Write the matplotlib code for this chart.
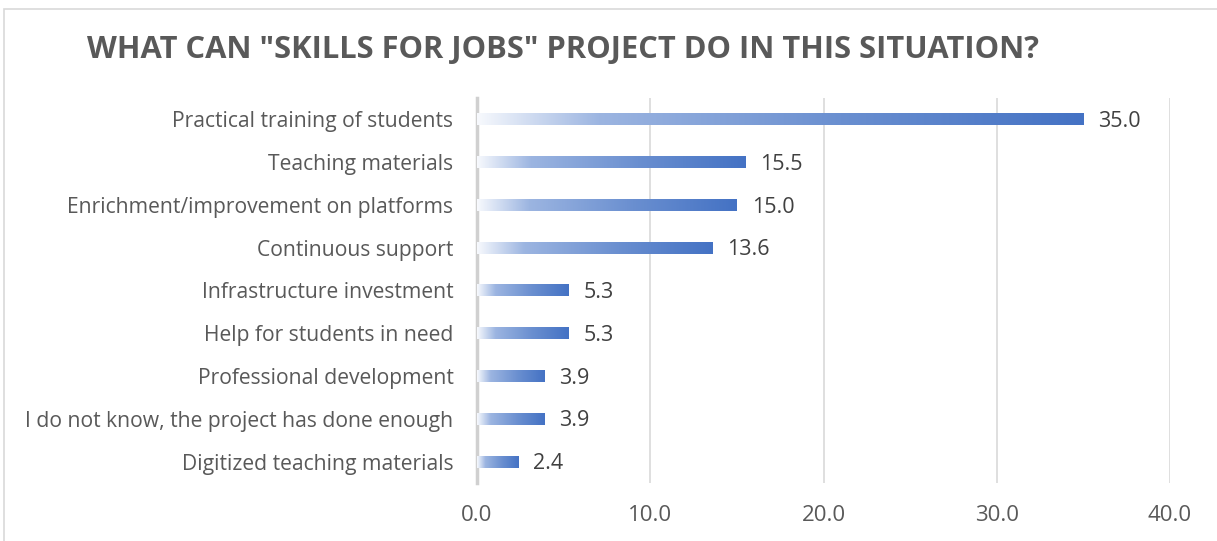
import numpy as np
import matplotlib
matplotlib.use('Agg')
import matplotlib.pyplot as plt
from matplotlib.colors import LinearSegmentedColormap
from matplotlib.patches import Rectangle

# data
categories = [
    'Practical training of students',
    'Teaching materials',
    'Enrichment/improvement on platforms',
    'Continuous support',
    'Infrastructure investment',
    'Help for students in need',
    'Professional development',
    'I do not know, the project has done enough',
    'Digitized teaching materials',
]
values = [35.0, 15.5, 15.0, 13.6, 5.3, 5.3, 3.9, 3.9, 2.4]
x_ticks = [0, 10, 20, 30, 40]

plt.rcParams['font.family'] = ['Open Sans', 'DejaVu Sans']

fig = plt.figure(figsize=(12.17, 5.41), dpi=100)
ax = fig.add_axes([477 / 1217, 1 - 483 / 541, (1170 - 477) / 1217, (483 - 98) / 541])

# chart border
fig.patches.append(Rectangle((4 / 1217, -0.05), 1.2, 1 - 9 / 541 + 0.05,
                             transform=fig.transFigure, fill=False,
                             edgecolor='#d9d9d9', linewidth=1.2))

cmap = LinearSegmentedColormap.from_list(
    'grad', [(0.0, '#f7f9fd'), (0.2, '#9cb5e1'), (0.6, '#6a8fd0'), (1.0, '#4472c4')])
grad = np.linspace(0, 1, 256).reshape(1, -1)

n = len(categories)
bar_h = 0.28
for i, (cat, v) in enumerate(zip(categories, values)):
    y = n - 1 - i
    ax.imshow(grad, cmap=cmap, aspect='auto', interpolation='bilinear',
              extent=[0, v, y - bar_h / 2, y + bar_h / 2], zorder=3)
    ax.text(v + 0.85, y - 0.05, f'{v:.1f}', va='center', ha='left',
            fontsize=15.5, color='#404040')

ax.set_xlim(0, 40)
ax.set_ylim(-0.5, n - 0.5)
ax.set_yticks(range(n))
ax.set_yticklabels(categories[::-1], fontsize=15.2, color='#595959')
ax.set_xticks(x_ticks)
ax.set_xticklabels([f'{t:.1f}' for t in x_ticks], fontsize=16, color='#595959')
ax.tick_params(length=0)
ax.tick_params(axis='x', pad=16)
ax.tick_params(axis='y', pad=17)

ax.grid(axis='x', color='#d9d9d9', linewidth=1.2, zorder=0)
ax.set_axisbelow(True)
for s in ['top', 'right', 'bottom']:
    ax.spines[s].set_visible(False)
ax.spines['left'].set_color('#d0d0d0')
ax.spines['left'].set_linewidth(2.5)

fig.text(563 / 1217, 1 - 50 / 541, 'WHAT CAN "SKILLS FOR JOBS" PROJECT DO IN THIS SITUATION?',
         ha='center', va='center', fontsize=22.2, fontweight='bold', color='#595959')

fig.savefig('out.png', dpi=100)
